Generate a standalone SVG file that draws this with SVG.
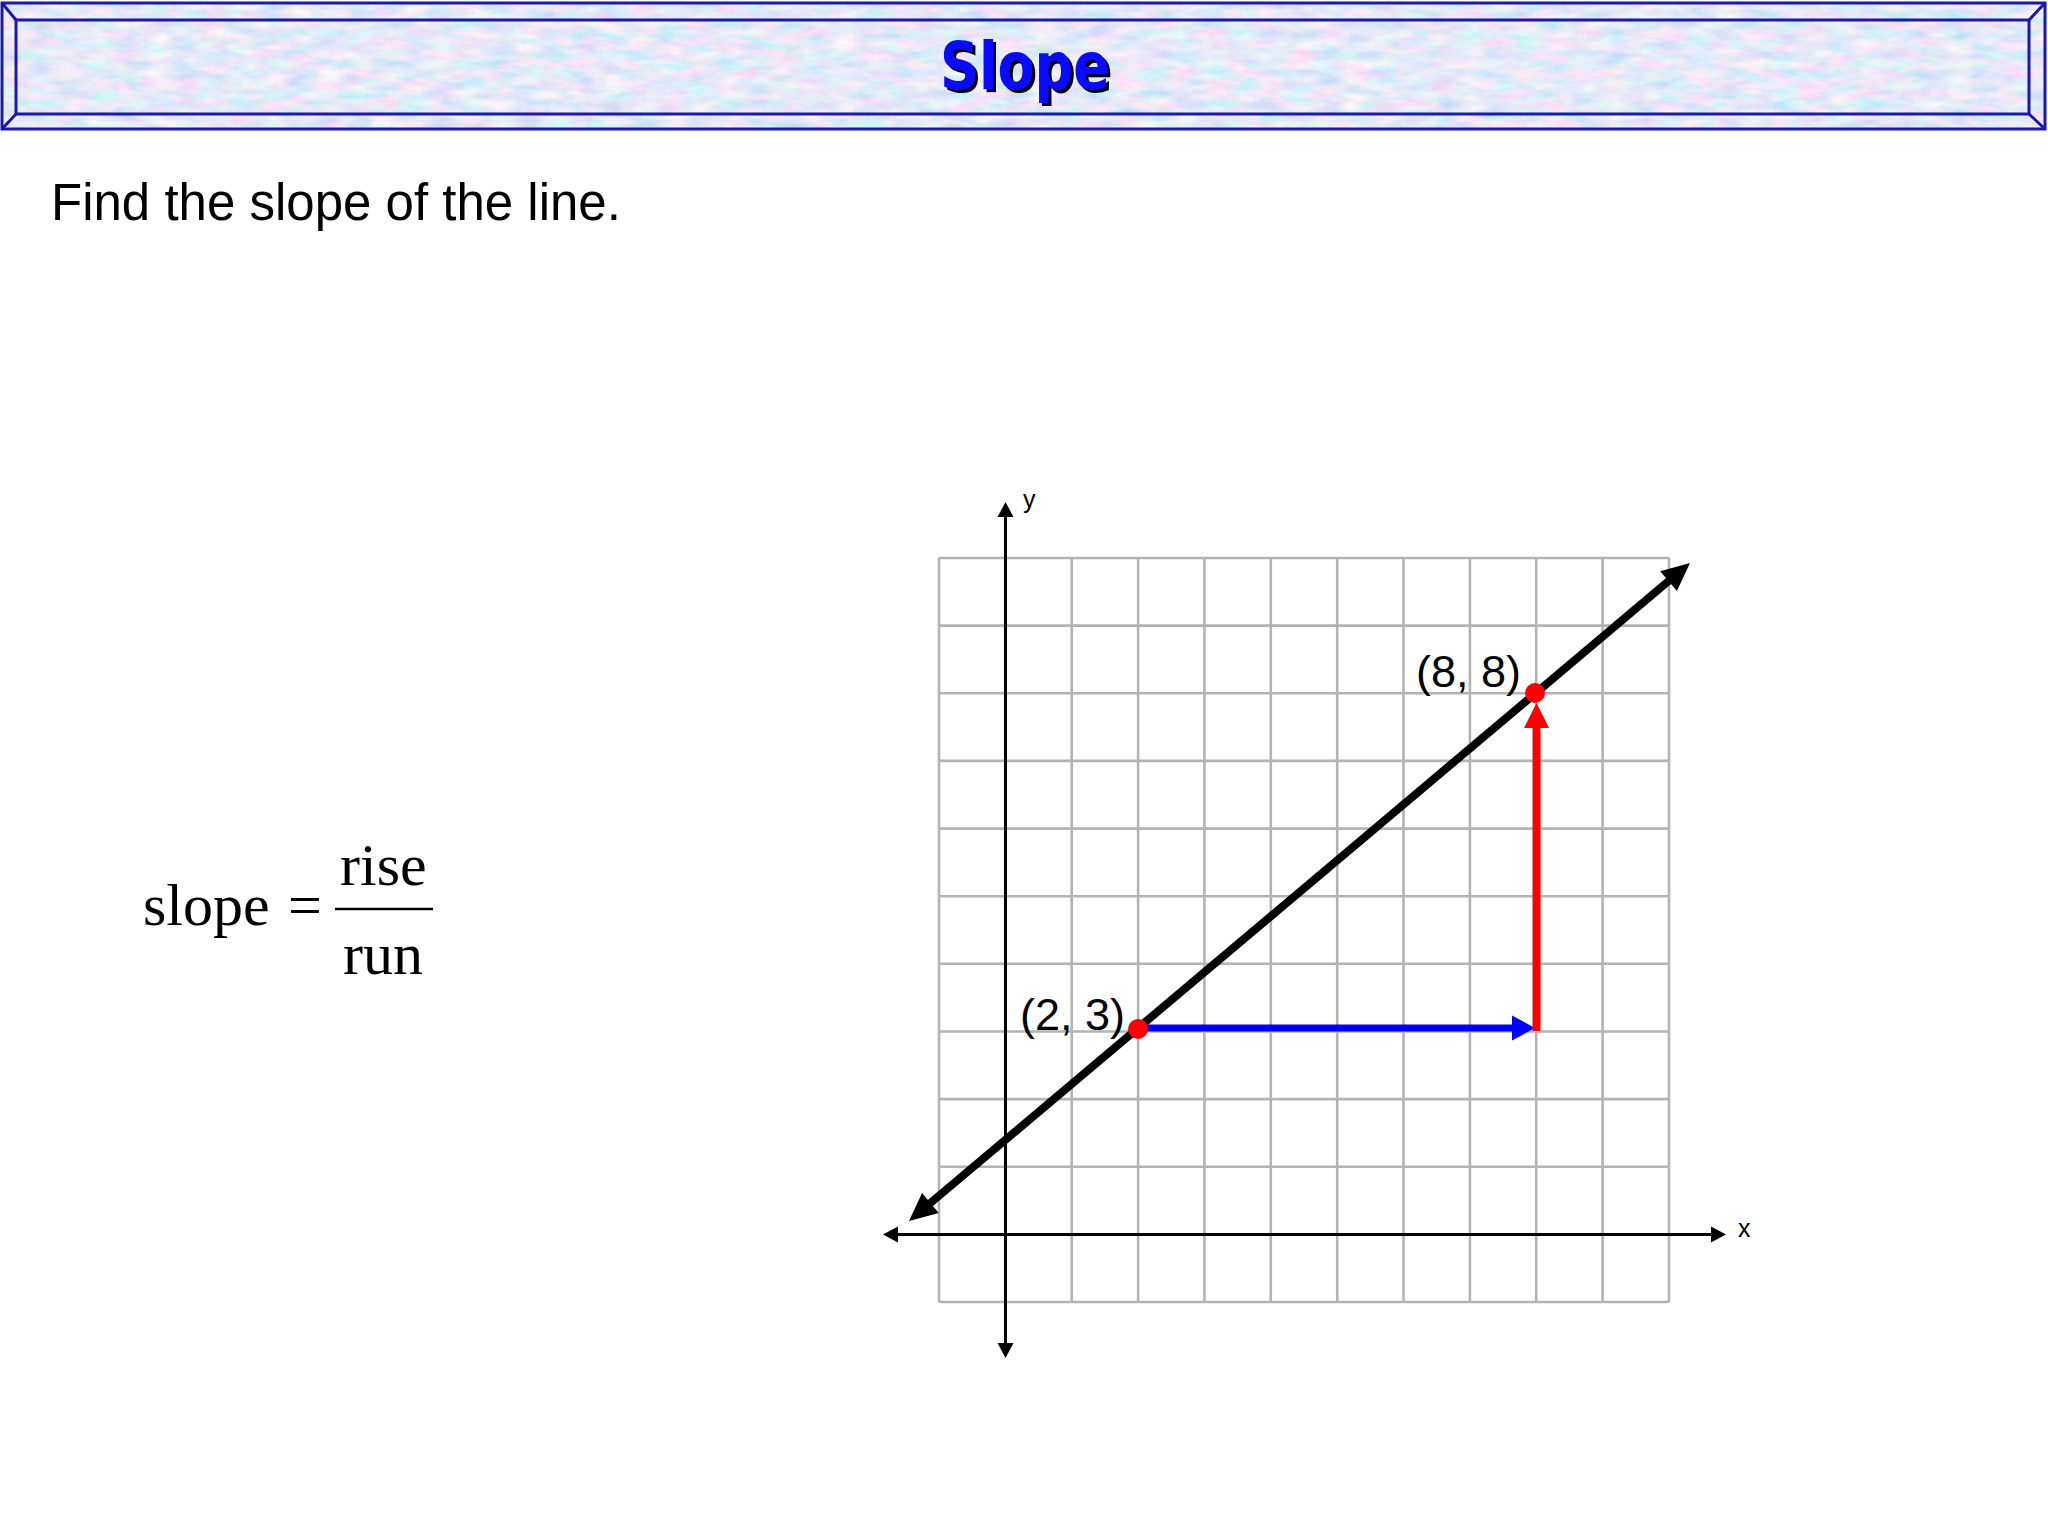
<svg xmlns="http://www.w3.org/2000/svg" width="2048" height="1536" viewBox="0 0 2048 1536">
  <defs>
    <filter id="tex" x="0" y="0" width="100%" height="100%">
      <feTurbulence type="fractalNoise" baseFrequency="0.035 0.1" numOctaves="3" seed="7" result="n"/>
      <feColorMatrix in="n" type="matrix" values="0.8 0 0 0 0.39  0 0.4 0 0 0.62  0 0 0.15 0 0.86  0 0 0 0 1" result="c"/>
      <feComposite in="c" in2="SourceGraphic" operator="in"/>
    </filter>
    <marker id="bigHead" markerUnits="userSpaceOnUse" markerWidth="30" markerHeight="28" refX="2" refY="13" orient="auto-start-reverse" overflow="visible">
      <path d="M0,0 L28,13 L0,26 z" fill="#000"/>
    </marker>
    <marker id="axHead" markerUnits="userSpaceOnUse" markerWidth="16" markerHeight="16" refX="1" refY="8" orient="auto-start-reverse" overflow="visible">
      <path d="M0,0 L15,8 L0,16 z" fill="#000"/>
    </marker>
    <marker id="blueHead" markerUnits="userSpaceOnUse" markerWidth="24" markerHeight="26" refX="1" refY="12.5" orient="auto" overflow="visible">
      <path d="M0,0 L23,12.5 L0,25 z" fill="#0000ff"/>
    </marker>
    <marker id="redHead" markerUnits="userSpaceOnUse" markerWidth="26" markerHeight="26" refX="1" refY="12.5" orient="auto" overflow="visible">
      <path d="M0,0 L25,12.5 L0,25 z" fill="#ff0000"/>
    </marker>
  </defs>
  <style>
    .frame { fill: none; stroke: #1a1aa6; stroke-width: 3; }
    .grid { stroke: #b3b3b3; stroke-width: 2.6; fill: none; }
    .axis { stroke: #000; stroke-width: 3; fill: none; }
    .sans { font-family: "Liberation Sans", Arial, sans-serif; fill: #000; }
    .serif { font-family: "Liberation Serif", "Times New Roman", serif; fill: #000; }
  </style>

  <rect width="2048" height="1536" fill="#ffffff"/>

  <!-- Title banner -->
  <g id="title">
    <rect x="2" y="3" width="2043" height="126" fill="#c9d8f0" filter="url(#tex)"/>
    <rect class="frame" x="2" y="3" width="2043" height="126"/>
    <rect class="frame" x="16" y="20" width="2013" height="94"/>
    <path class="frame" d="M2,3 L16,20 M2045,3 L2029,20 M2,129 L16,114 M2045,129 L2029,114"/>
    <text x="943" y="92" font-family="'DejaVu Sans', Verdana, sans-serif" font-weight="bold" font-size="66" textLength="170" lengthAdjust="spacingAndGlyphs" fill="#000">Slope</text>
    <text x="940" y="89" font-family="'DejaVu Sans', Verdana, sans-serif" font-weight="bold" font-size="66" textLength="170" lengthAdjust="spacingAndGlyphs" fill="#0a0aff">Slope</text>
  </g>

  <g id="prompt">
    <text class="sans" x="51" y="220" font-size="51">Find the slope of the line.</text>
  </g>

  <g id="formula">
    <text class="serif" x="143" y="925" font-size="60">slope</text>
    <text class="serif" x="288" y="925" font-size="60">=</text>
    <text class="serif" x="340" y="885" font-size="60">rise</text>
    <line x1="335" y1="909" x2="433" y2="909" stroke="#000" stroke-width="2.5"/>
    <text class="serif" x="343" y="974" font-size="60">run</text>
  </g>

  <!-- Grid -->
  <g id="grid" class="grid">
    <path d="M939,558 V1302 M1005.4,558 V1302 M1071.7,558 V1302 M1138.1,558 V1302 M1204.4,558 V1302 M1270.8,558 V1302 M1337.2,558 V1302 M1403.5,558 V1302 M1469.9,558 V1302 M1536.2,558 V1302 M1602.6,558 V1302 M1669,558 V1302"/>
    <path d="M939,558 H1669 M939,625.6 H1669 M939,693.3 H1669 M939,760.9 H1669 M939,828.6 H1669 M939,896.2 H1669 M939,963.8 H1669 M939,1031.5 H1669 M939,1099.1 H1669 M939,1166.8 H1669 M939,1234.4 H1669 M939,1302 H1669"/>
  </g>

  <g id="connectors">
    <!-- axes -->
    <path class="axis" d="M1005.5,1344 V516" marker-start="url(#axHead)" marker-end="url(#axHead)"/>
    <path class="axis" d="M897,1234.4 H1712" marker-start="url(#axHead)" marker-end="url(#axHead)"/>
    <!-- line -->
    <path d="M928.9,1204.3 L1670.1,579.8" stroke="#000" stroke-width="8" fill="none" marker-start="url(#bigHead)" marker-end="url(#bigHead)"/>
    <!-- run -->
    <path d="M1138,1028 H1513" stroke="#0000ff" stroke-width="7" fill="none" marker-end="url(#blueHead)"/>
    <!-- rise -->
    <path d="M1536.5,1031 V727" stroke="#ff0000" stroke-width="8" fill="none" marker-end="url(#redHead)"/>
  </g>

  <g id="axis-labels">
    <text class="sans" x="1023" y="508" font-size="25">y</text>
    <text class="sans" x="1738" y="1237" font-size="25">x</text>
  </g>

  <g id="point-2-3">
    <circle cx="1138" cy="1029" r="10" fill="#ff0000"/>
    <text class="sans" x="1020" y="1030" font-size="45">(2, 3)</text>
  </g>
  <g id="point-8-8">
    <circle cx="1535" cy="693" r="10" fill="#ff0000"/>
    <text class="sans" x="1416" y="687" font-size="45">(8, 8)</text>
  </g>
</svg>
